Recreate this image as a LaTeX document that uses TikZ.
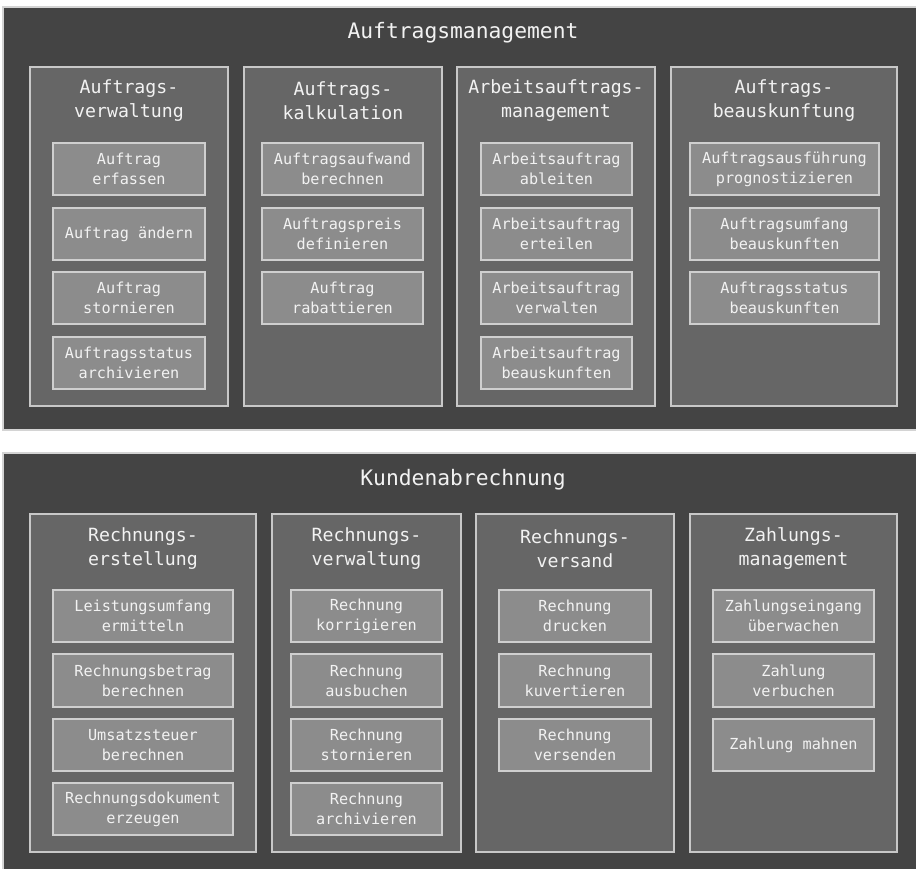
\documentclass[tikz,border=0pt]{standalone}
\usepackage{fontspec}
\setmonofont{DejaVu Sans Mono}
\begin{document}
\begin{tikzpicture}[x=1pt,y=-1pt,
  outerbox/.style={draw=outerline, fill=outerfill, line width=1.5pt, rectangle, inner sep=0pt},
  colbox/.style={draw=colline, fill=colfill, line width=1.5pt, rectangle, inner sep=0pt},
  itembox/.style={draw=itemline, fill=itemfill, line width=1.5pt, rectangle, inner sep=0pt,
    text=textcol, align=center, font=\ttfamily\fontsize{15.2}{20}\selectfont},
  coltitle/.style={text=textcol, align=center, inner sep=0pt, font=\ttfamily\fontsize{18.2}{24}\selectfont},
  maintitle/.style={text=textcol, inner sep=0pt, font=\ttfamily\fontsize{21.3}{26}\selectfont}]
\definecolor{outerline}{HTML}{D4D4D4}
\definecolor{outerfill}{HTML}{444444}
\definecolor{colline}{HTML}{C8C8C8}
\definecolor{colfill}{HTML}{666666}
\definecolor{itemline}{HTML}{CFCFCF}
\definecolor{itemfill}{HTML}{8C8C8C}
\definecolor{textcol}{HTML}{F2F2F2}
\newcommand\bx[7]{\node[#1, minimum width={(#5-#3)*1pt}, minimum height={(#6-#4)*1pt}] (#2) at ({(#3+#5)/2},{(#4+#6)/2}) {#7};}
\useasboundingbox (0,0) rectangle (916,868);
\clip (0,0) rectangle (916,868);
\fill[white] (0,0) rectangle (916,868);
% ---------- top block ----------
\bx{outerbox}{om}{3}{7}{940}{430}{}
\node[maintitle] (omt) at (463,33) {Auftragsmanagement};
\bx{colbox}{a1}{30}{67}{228}{406}{}
\bx{colbox}{a2}{244}{67}{442}{406}{}
\bx{colbox}{a3}{457}{67}{655}{406}{}
\bx{colbox}{a4}{671}{67}{897}{406}{}
\node[coltitle] (a1t) at (129,101) {Auftrags-\\verwaltung};
\node[coltitle] (a2t) at (343,101) {Auftrags-\\kalkulation};
\node[coltitle] (a3t) at (556,101) {Arbeitsauftrags-\\management};
\node[coltitle] (a4t) at (784,101) {Auftrags-\\beauskunftung};
\bx{itembox}{a11}{53}{143}{205}{195}{Auftrag\\erfassen}
\bx{itembox}{a12}{53}{208}{205}{260}{Auftrag ändern}
\bx{itembox}{a13}{53}{272}{205}{324}{Auftrag\\stornieren}
\bx{itembox}{a14}{53}{337}{205}{389}{Auftragsstatus\\archivieren}
\bx{itembox}{a21}{262}{143}{423}{195}{Auftragsaufwand\\berechnen}
\bx{itembox}{a22}{262}{208}{423}{260}{Auftragspreis\\definieren}
\bx{itembox}{a23}{262}{272}{423}{324}{Auftrag\\rabattieren}
\bx{itembox}{a31}{481}{143}{632}{195}{Arbeitsauftrag\\ableiten}
\bx{itembox}{a32}{481}{208}{632}{260}{Arbeitsauftrag\\erteilen}
\bx{itembox}{a33}{481}{272}{632}{324}{Arbeitsauftrag\\verwalten}
\bx{itembox}{a34}{481}{337}{632}{389}{Arbeitsauftrag\\beauskunften}
\bx{itembox}{a41}{690}{143}{879}{195}{Auftragsausführung\\prognostizieren}
\bx{itembox}{a42}{690}{208}{879}{260}{Auftragsumfang\\beauskunften}
\bx{itembox}{a43}{690}{272}{879}{324}{Auftragsstatus\\beauskunften}
% ---------- bottom block ----------
\bx{outerbox}{km}{3}{453}{940}{890}{}
\node[maintitle] (kmt) at (463,480) {Kundenabrechnung};
\bx{colbox}{b1}{30}{514}{256}{852}{}
\bx{colbox}{b2}{272}{514}{461}{852}{}
\bx{colbox}{b3}{476}{514}{674}{852}{}
\bx{colbox}{b4}{690}{514}{897}{852}{}
\node[coltitle] (b1t) at (143,548.5) {Rechnungs-\\erstellung};
\node[coltitle] (b2t) at (366.5,548.5) {Rechnungs-\\verwaltung};
\node[coltitle] (b3t) at (575,548.5) {Rechnungs-\\versand};
\node[coltitle] (b4t) at (793.5,548.5) {Zahlungs-\\management};
\bx{itembox}{b11}{53}{590}{233}{642}{Leistungsumfang\\ermitteln}
\bx{itembox}{b12}{53}{654}{233}{707}{Rechnungsbetrag\\berechnen}
\bx{itembox}{b13}{53}{719}{233}{771}{Umsatzsteuer\\berechnen}
\bx{itembox}{b14}{53}{783}{233}{835}{Rechnungsdokument\\erzeugen}
\bx{itembox}{b21}{291}{590}{442}{642}{Rechnung\\korrigieren}
\bx{itembox}{b22}{291}{654}{442}{707}{Rechnung\\ausbuchen}
\bx{itembox}{b23}{291}{719}{442}{771}{Rechnung\\stornieren}
\bx{itembox}{b24}{291}{783}{442}{835}{Rechnung\\archivieren}
\bx{itembox}{b31}{499}{590}{651}{642}{Rechnung\\drucken}
\bx{itembox}{b32}{499}{654}{651}{707}{Rechnung\\kuvertieren}
\bx{itembox}{b33}{499}{719}{651}{771}{Rechnung\\versenden}
\bx{itembox}{b41}{713}{590}{874}{642}{Zahlungseingang\\überwachen}
\bx{itembox}{b42}{713}{654}{874}{707}{Zahlung\\verbuchen}
\bx{itembox}{b43}{713}{719}{874}{771}{Zahlung mahnen}
\end{tikzpicture}
\end{document}
